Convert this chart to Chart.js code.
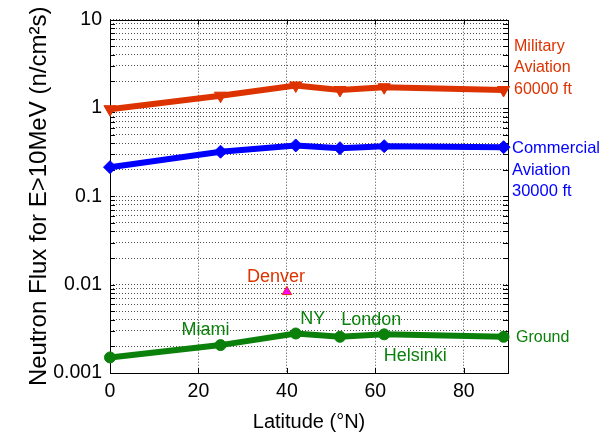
<!DOCTYPE html>
<html><head><meta charset="utf-8">
<script src="https://cdn.jsdelivr.net/npm/chart.js@4/dist/chart.umd.min.js"></script>
<style>html,body{margin:0;padding:0;background:#fff;overflow:hidden}</style>
</head><body>
<canvas id="c" width="601" height="436" style="display:block;width:601px;height:436px"></canvas>
<script>
// ---- data ----
const latitudes = [0, 25, 42, 52, 62, 89];
const militaryFlux = [0.97, 1.38, 1.8, 1.6, 1.72, 1.6];
const commercialFlux = [0.214, 0.32, 0.377, 0.351, 0.37, 0.36];
const groundFlux = [0.0015, 0.00207, 0.0028, 0.00257, 0.00274, 0.00257];
const denverLatitude = [40];
const denverFlux = [0.0083];
const xTickValues = [0, 20, 40, 60, 80];
const yDecadeValues = [0.001, 0.01, 0.1, 1, 10];
const yDecadeLabels = ['0.001', '0.01', '0.1', '1', '10'];
const militaryLabel = ['Military', 'Aviation', '60000 ft'];
const commercialLabel = ['Commercial', 'Aviation', '30000 ft'];
const groundLabel = ['Ground'];
const cityNames = ['Denver', 'Miami', 'NY', 'London', 'Helsinki'];

const RED = '#dd3300', BLUE = '#0000ff', GREEN = '#0b800b', MAGENTA = '#ff00ff';
const FONT = "'Liberation Sans', Arial, sans-serif";

const pts = (xs, ys) => xs.map((x, i) => ({x, y: ys[i]}));

// y grid/tick values: every integer multiple within each decade
const yAllTicks = [];
yDecadeValues.forEach((d, i) => {
  if (i < yDecadeValues.length - 1) { for (let k = 1; k <= 9; k++) yAllTicks.push(+(d * k).toPrecision(3)); }
  else yAllTicks.push(d);
});

const decorPlugin = {
  id: 'decor',
  beforeDatasetsDraw(chart) {
    const {ctx, chartArea: a, scales: {x, y}} = chart;
    ctx.save();
    ctx.strokeStyle = '#000';
    ctx.lineWidth = 1;
    ctx.beginPath();
    const tl = 5;
    xTickValues.forEach(v => {
      const px = Math.round(x.getPixelForValue(v)) + 0.5;
      ctx.moveTo(px, a.bottom); ctx.lineTo(px, a.bottom - tl);
      ctx.moveTo(px, a.top); ctx.lineTo(px, a.top + tl);
    });
    yAllTicks.forEach(v => {
      const py = Math.round(y.getPixelForValue(v)) + 0.5;
      ctx.moveTo(a.left, py); ctx.lineTo(a.left + tl, py);
      ctx.moveTo(a.right, py); ctx.lineTo(a.right - tl, py);
    });
    ctx.stroke();
    ctx.strokeRect(Math.round(a.left) + 0.5, Math.round(a.top) + 0.5, Math.round(a.right - a.left), Math.round(a.bottom - a.top));
    ctx.restore();
  },
  afterDatasetsDraw(chart) {
    const {ctx, chartArea: a, scales: {x, y}} = chart;
    ctx.save();
    ctx.textBaseline = 'alphabetic';
    const n = latitudes.length - 1;
    // right-side series labels
    const drawBlock = (lines, color, val, dx, dy, size) => {
      ctx.fillStyle = color; ctx.textAlign = 'left';
      ctx.font = size + 'px ' + FONT;
      const base = y.getPixelForValue(val);
      lines.forEach((t, i) => ctx.fillText(t, a.right + dx, base + dy + i * 21.5));
    };
    drawBlock(militaryLabel, RED, militaryFlux[n], 6, -39, 16);
    drawBlock(commercialLabel, BLUE, commercialFlux[n], 4, 6, 16.5);
    drawBlock(groundLabel, GREEN, groundFlux[n], 8, 5, 16);
    // city labels, anchored to their data points
    ctx.textAlign = 'center';
    ctx.font = '18px ' + FONT;
    const city = (name, color, lat, val, dx, dy) => {
      ctx.fillStyle = color;
      ctx.fillText(name, x.getPixelForValue(lat) + dx, y.getPixelForValue(val) + dy);
    };
    city(cityNames[0], RED, denverLatitude[0], denverFlux[0], -11, -10);
    city(cityNames[1], GREEN, latitudes[1], groundFlux[1], -15, -10);
    city(cityNames[2], GREEN, latitudes[2], groundFlux[2], 17, -10);
    city(cityNames[3], GREEN, latitudes[4], groundFlux[4], -13, -9);
    city(cityNames[4], GREEN, latitudes[4], groundFlux[4], 31, 27);
    ctx.restore();
  }
};

const lineDs = (data, color, style, radius, rot) => ({
  data, borderColor: color, backgroundColor: color, borderWidth: 6,
  pointStyle: style, pointRadius: radius, pointRotation: rot || 0,
  pointBorderColor: color, pointBackgroundColor: color, pointBorderWidth: 1,
  tension: 0, clip: false, showLine: true
});

new Chart(document.getElementById('c'), {
  type: 'line',
  data: {
    datasets: [
      lineDs(pts(latitudes, militaryFlux), RED, 'triangle', 7, 180),
      lineDs(pts(latitudes, commercialFlux), BLUE, 'rectRot', 6.5),
      lineDs(pts(latitudes, groundFlux), GREEN, 'circle', 5.5),
      { data: pts(denverLatitude, denverFlux), showLine: false, pointStyle: 'triangle',
        pointRadius: 5.5, pointBackgroundColor: MAGENTA, pointBorderColor: RED, pointBorderWidth: 1, clip: false }
    ]
  },
  options: {
    responsive: false, animation: false, devicePixelRatio: 1,
    layout: {padding: {left: 0, top: 19, right: 93, bottom: 0}},
    plugins: {legend: {display: false}, tooltip: {enabled: false}},
    scales: {
      x: {
        type: 'linear', min: 0, max: 90,
        afterBuildTicks: s => { s.ticks = xTickValues.map(v => ({value: v})); },
        afterFit: s => { s.height = 63; },
        grid: {color: 'rgba(0,0,0,0.7)', lineWidth: 1, drawTicks: false},
        border: {display: false, dash: [1, 2]},
        ticks: {color: '#000', padding: 7, font: {family: FONT, size: 19.5}, maxRotation: 0},
        title: {display: true, text: 'Latitude (°N)', color: '#000', font: {family: FONT, size: 20}, padding: {top: 4, bottom: 2}}
      },
      y: {
        type: 'logarithmic', min: 0.001, max: 10,
        afterBuildTicks: s => { s.ticks = yAllTicks.map(v => ({value: v})); },
        afterFit: s => { s.width = 110; },
        grid: {color: 'rgba(0,0,0,0.7)', lineWidth: 1, drawTicks: false},
        border: {display: false, dash: [1, 2]},
        ticks: {color: '#000', padding: 8, autoSkip: false, font: {family: FONT, size: 19.5},
          callback: v => { const i = yDecadeValues.findIndex(d => Math.abs(d - v) / d < 1e-6); return i >= 0 ? yDecadeLabels[i] : ''; }},
        title: {display: true, text: 'Neutron Flux for E>10MeV (n/cm²s)', color: '#000', font: {family: FONT, size: 24}, padding: {top: 24.5, bottom: 4}}
      }
    }
  },
  plugins: [decorPlugin]
});
</script>
</body></html>
